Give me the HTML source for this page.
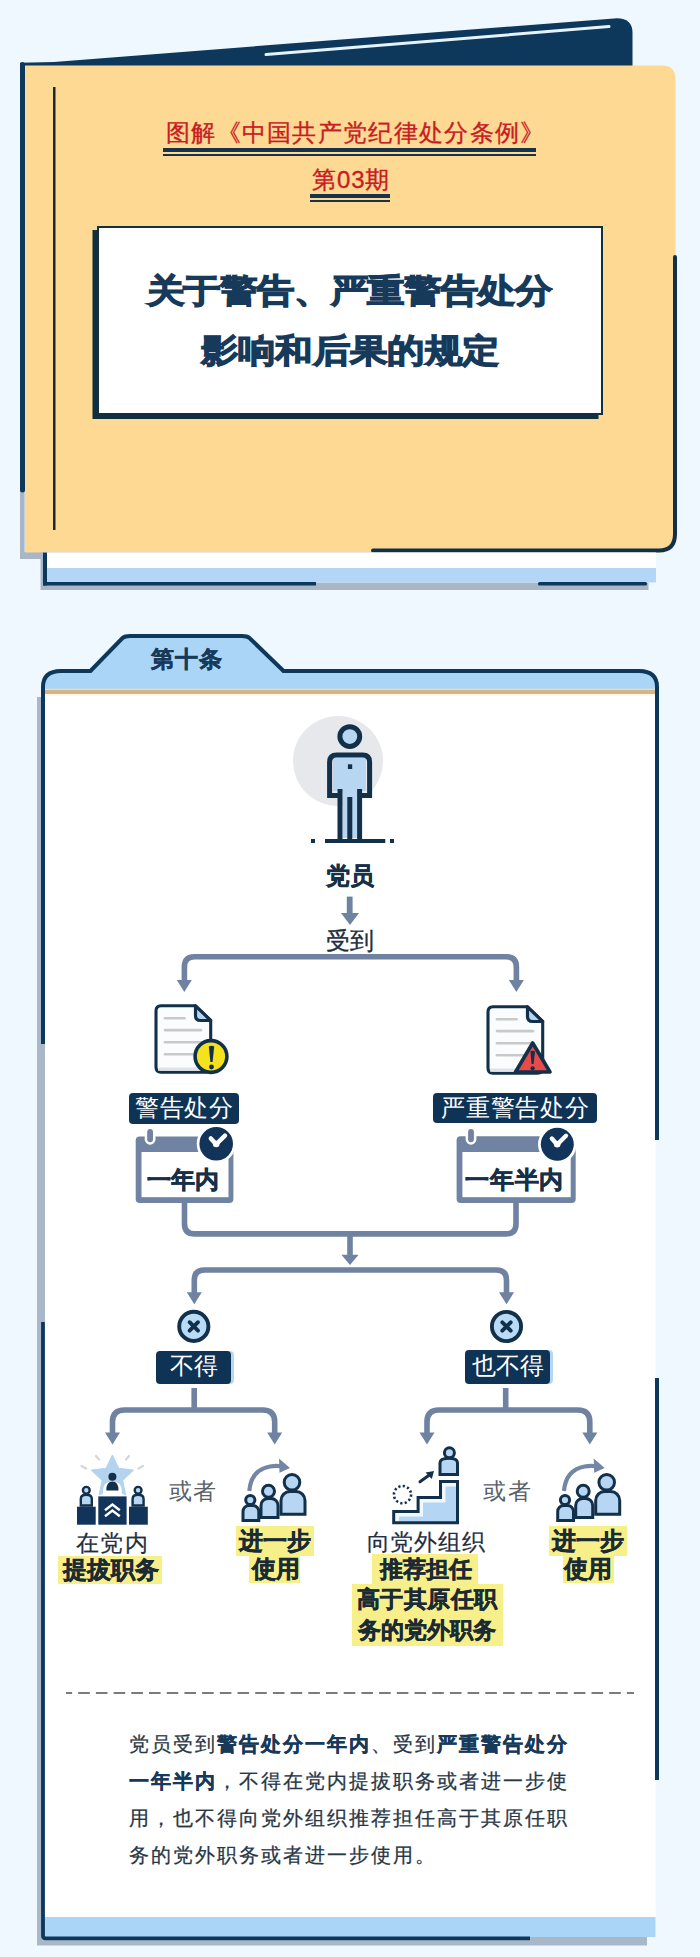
<!DOCTYPE html>
<html><head><meta charset="utf-8">
<style>
*{margin:0;padding:0;box-sizing:border-box}
html,body{width:700px;height:1957px;overflow:hidden;background:#eef8fe}
body{position:relative;font-family:"Liberation Sans",sans-serif;color:#1c2d3d}
.a{position:absolute}
.t{position:absolute;white-space:nowrap;line-height:1}
.lbl{position:absolute;background:#0f3354;color:#fff;border-radius:4px;text-align:center;box-shadow:3px 0 0 #b6d7f3}
.hl{background:#f7ef8a;-webkit-text-stroke:0.5px #1b2b35}
</style></head><body>

<!-- ===== BOOK HEADER ===== -->
<svg class="a" style="left:0;top:0" width="700" height="600" viewBox="0 0 700 600">
  <!-- back cover -->
  <path d="M20 62.8 L54 61.9 L614 18.4 Q632.5 17 632.5 33 L632.5 70 L20 70 Z" fill="#0d385c"/>
  <line x1="266" y1="54.6" x2="609" y2="26.6" stroke="#e6f3fc" stroke-width="3" stroke-linecap="round"/>
  <!-- left strips -->
  <rect x="20" y="480" width="4.6" height="79" fill="#a9b6c7"/>
  <rect x="20" y="62" width="5" height="430.5" rx="2.5" fill="#0d385c"/>
  <rect x="20" y="552" width="24" height="7" fill="#a9b6c7"/>
  <!-- beige page -->
  <path d="M25 65.5 L662 65.5 Q675.5 65.5 675.5 79 L675.5 534 Q675.5 552.5 657 552.5 L25 552.5 Z" fill="#fdd993"/>
  <!-- right + bottom navy border -->
  <path d="M675 257 L675 534 Q675 550.5 659 550.5 L373 550.5" fill="none" stroke="#12304a" stroke-width="4" stroke-linecap="round"/>
  <!-- inner vertical line -->
  <rect x="53" y="87" width="2.5" height="443" fill="#1b2633"/>
  <!-- second layer page -->
  <rect x="40.5" y="552.5" width="608" height="37.5" fill="#a9b6c7"/>
  <rect x="43" y="552.5" width="613" height="30" fill="#ffffff"/>
  <rect x="47" y="568" width="609" height="14.5" fill="#b3d6f6"/>
  <rect x="43" y="552.5" width="4" height="33" fill="#0d385c"/>
  <rect x="43" y="582" width="273" height="3.5" fill="#0d385c"/>
  <rect x="538" y="582" width="109" height="3.5" rx="1.5" fill="#0d385c"/>
</svg>

<div class="t" style="left:166px;top:121px;font-size:24px;letter-spacing:1.3px;color:#c81c24;-webkit-text-stroke:0.35px #c81c24">图解《中国共产党纪律处分条例》</div>
<div class="a" style="left:163px;top:148px;width:373px;height:3.7px;background:#17324a"></div>
<div class="a" style="left:163px;top:153.6px;width:373px;height:2.4px;background:#17324a"></div>
<div class="t" style="left:312px;top:168px;font-size:24px;letter-spacing:0.9px;color:#c81c24;-webkit-text-stroke:0.35px #c81c24">第03期</div>
<div class="a" style="left:310px;top:194.3px;width:80px;height:3.7px;background:#17324a"></div>
<div class="a" style="left:310px;top:199.8px;width:80px;height:2.4px;background:#17324a"></div>

<!-- title box -->
<div class="a" style="left:97px;top:226px;width:506px;height:189px;background:#fff;border:2px solid #10303f;box-shadow:-4.5px 4px 0 #10303f"></div>
<div class="t" style="left:0;width:698px;text-align:center;top:271.5px;font-size:37px;letter-spacing:-0.2px;font-weight:bold;color:#173a5a;-webkit-text-stroke:1.4px #173a5a;transform:scaleY(0.88)">关于警告、严重警告处分</div>
<div class="t" style="left:0;width:700px;text-align:center;top:331.5px;font-size:37px;letter-spacing:0.3px;font-weight:bold;color:#173a5a;-webkit-text-stroke:1.4px #173a5a;transform:scaleY(0.88)">影响和后果的规定</div>

<!-- ===== CARD ===== -->
<svg class="a" style="left:0;top:600px" width="700" height="1357" viewBox="0 600 700 1357">
  <!-- shadow -->
  <rect x="37" y="697" width="8" height="1247" fill="#a9b8c8"/>
  <rect x="37" y="1937" width="610" height="8.5" fill="#a9b8c8"/>
  <!-- card fill -->
  <path d="M43 1937 L43 687 Q43 669 61 669 L90 669 L122 637 Q125 634.5 130 634.5 L242 634.5 Q247 634.5 250 637 L284 669 L639 669 Q657 669 657 687 L657 1140 L655.5 1140 L655.5 1937 Z" fill="#ffffff"/>
  <rect x="41" y="1044" width="4" height="278" fill="#a9b8c8"/>
  <!-- light blue header -->
  <path d="M43 691 L43 687 Q43 669 61 669 L90 669 L122 637 Q125 634.5 130 634.5 L242 634.5 Q247 634.5 250 637 L284 669 L639 669 Q657 669 657 687 L657 691 Z" fill="#abd5f7"/>
  <rect x="45" y="688.7" width="610" height="1.5" fill="#d3e2e8"/>
  <rect x="45" y="690" width="610" height="4.2" fill="#dab47e"/>
  <rect x="45" y="694.2" width="610" height="2" fill="#fffaf0"/>
  <!-- bottom band -->
  <rect x="43" y="1917" width="612.5" height="20" fill="#abd5f7"/>
  <!-- borders -->
  <path d="M43 1044 L43 687 Q43 671 61 671 L90.5 671 L122.5 638 Q125 636 130 636 L242 636 Q247 636 249.5 638 L283.5 671 L639 671 Q657 671 657 687 L657 1140" fill="none" stroke="#0d385c" stroke-width="4"/>
  <path d="M43 1322 L43 1935.5 Q43 1938.3 45.8 1938.3 L530 1938.3" fill="none" stroke="#0d385c" stroke-width="3.8"/>
  <rect x="655" y="1378" width="4" height="402" fill="#0d385c"/>
</svg>
<div class="t" style="left:150.5px;top:647.5px;font-size:23px;letter-spacing:1px;font-weight:bold;color:#173a5a;-webkit-text-stroke:0.4px #173a5a">第十条</div>


<!-- ===== FLOW SHAPES ===== -->
<svg class="a" style="left:0;top:0" width="700" height="1957" viewBox="0 0 700 1957">
  <defs>
    <path id="ah" d="M-7.5 0 L7.5 0 L0 12 Z"/>
  </defs>
  <!-- person -->
  <circle cx="338" cy="761" r="45" fill="#e7e8eb"/>
  <g fill="none" stroke="#13304a" stroke-width="5">
    <path d="M333 758 L366 758 L366 791 L357 791 L357 838 L342.6 838 L342.6 791 L333 791 Z" fill="#b6d6f1" stroke="none"/>
    <circle cx="349.8" cy="736.6" r="9.9" fill="#b6d6f1"/>
    <path d="M340 789 L340 840"/>
    <path d="M359.6 789 L359.6 840"/>
    <path d="M349.8 797 L349.8 840"/>
    <path d="M340 795.5 L329.6 795.5 L329.6 762 Q329.6 755 336.6 755 L362.6 755 Q369.6 755 369.6 762 L369.6 795.5 L359.6 795.5"/>
  </g>
  <rect x="347.9" y="764.3" width="4.3" height="4.7" fill="#13304a"/>
  <rect x="325" y="839" width="60.3" height="4" fill="#13304a"/>
  <rect x="311" y="839" width="4" height="4" fill="#13304a"/>
  <rect x="390" y="839" width="4" height="4" fill="#13304a"/>

  <!-- arrow 党员 -> 受到 -->
  <g fill="#6f82a1">
    <rect x="346.8" y="896.6" width="5.8" height="18"/>
    <path d="M341 913 L359 913 L350 925 Z"/>
  </g>

  <g fill="none" stroke="#6f82a1" stroke-width="5.6">
    <!-- level1 -->
    <path d="M184.4 981 L184.4 967 Q184.4 956.8 194.6 956.8 L506.2 956.8 Q516.4 956.8 516.4 967 L516.4 981"/>
    <!-- merge -->
    <path d="M184.5 1203 L184.5 1223.7 Q184.5 1233.9 194.7 1233.9 L505.8 1233.9 Q516 1233.9 516 1223.7 L516 1203"/>
    <path d="M350 1233.9 L350 1256"/>
    <!-- level2 -->
    <path d="M194.3 1293.5 L194.3 1280.2 Q194.3 1270 204.5 1270 L496.3 1270 Q506.5 1270 506.5 1280.2 L506.5 1293.5"/>
    <!-- level3 left -->
    <path d="M194.2 1388 L194.2 1410"/>
    <path d="M112.5 1433.5 L112.5 1422 Q112.5 1410 124.5 1410 L262.7 1410 Q274.7 1410 274.7 1422 L274.7 1433.5"/>
    <!-- level3 right -->
    <path d="M505.7 1388 L505.7 1410"/>
    <path d="M427 1433.5 L427 1422 Q427 1410 439 1410 L577.8 1410 Q589.8 1410 589.8 1422 L589.8 1433.5"/>
  </g>
  <g fill="#6f82a1">
    <use href="#ah" transform="translate(184.3 980)"/>
    <use href="#ah" transform="translate(516.4 980)"/>
    <path d="M341.4 1254.7 L358.6 1254.7 L350 1265 Z"/>
    <use href="#ah" transform="translate(194.3 1292.3)"/>
    <use href="#ah" transform="translate(506.5 1292.3)"/>
    <use href="#ah" transform="translate(112.5 1432.5)"/>
    <use href="#ah" transform="translate(274.7 1432.5)"/>
    <use href="#ah" transform="translate(427 1432.5)"/>
    <use href="#ah" transform="translate(589.8 1432.5)"/>
  </g>

  <!-- doc icons -->
  <g id="doc">
    <path d="M161 1005.8 L195.5 1005.8 L210.7 1020.5 L210.7 1067 Q210.7 1072.2 205.5 1072.2 L161 1072.2 Q156 1072.2 156 1067 L156 1011 Q156 1005.8 161 1005.8 Z" fill="#fafcfe" stroke="#13304a" stroke-width="3.1" stroke-linejoin="round"/>
    <rect x="158" y="1067.5" width="50" height="3.2" fill="#dfe3e8"/>
    <path d="M195.5 1005.8 L195.5 1015.5 Q195.5 1020.5 200.5 1020.5 L210.7 1020.5 Z" fill="#b5d6f3" stroke="#13304a" stroke-width="3.2" stroke-linejoin="round"/>
    <g stroke="#c8c9cb" stroke-width="2.6" stroke-linecap="round">
      <path d="M165 1018.2 L184.5 1018.2"/>
      <path d="M165 1030.1 L201 1030.1"/>
      <path d="M165 1042.3 L201 1042.3"/>
      <path d="M165 1054.2 L201 1054.2"/>
    </g>
  </g>
  <use href="#doc" transform="translate(332 1)"/>
  <circle cx="211" cy="1056.5" r="15.9" fill="#f3e21d" stroke="#13304a" stroke-width="3.6"/>
  <path d="M208.8 1046.5 Q211.5 1045 214.2 1046.5 L212.6 1062 L210.4 1062 Z" fill="#13304a"/>
  <circle cx="211.5" cy="1067" r="2.4" fill="#13304a"/>
  <path d="M532.7 1043 L550 1072 L515.5 1072 Z" fill="#e84a4a" stroke="#13304a" stroke-width="3.6" stroke-linejoin="round"/>
  <path d="M530.4 1051.5 Q532.7 1050 535 1051.5 L533.6 1064 L531.6 1064 Z" fill="#13304a"/>
  <circle cx="532.6" cy="1068.3" r="2.1" fill="#13304a"/>

  <!-- calendars -->
  <g id="cal">
    <rect x="135.7" y="1136.4" width="97.7" height="66.5" rx="4" fill="#7083a3"/>
    <rect x="141.5" y="1152" width="87" height="45.2" fill="#ffffff"/>
    <rect x="144.7" y="1126.5" width="10.8" height="18.2" rx="5.4" fill="#ffffff"/>
    <rect x="147.2" y="1129" width="5.8" height="13.2" rx="2.9" fill="#7083a3"/>
  </g>
  <circle cx="216.2" cy="1143.8" r="19.5" fill="#ffffff"/>
  <circle cx="216.2" cy="1143.8" r="16.8" fill="#12345a"/>
  <path d="M210.8 1138.4 L216.2 1144.3 L225 1135.6" fill="none" stroke="#ffffff" stroke-width="4.4" stroke-linecap="round" stroke-linejoin="round"/><circle cx="216.2" cy="1144" r="3.3" fill="#fff"/>

  <rect x="456.6" y="1136.3" width="119.1" height="66.6" rx="4" fill="#7083a3"/>
  <rect x="462.4" y="1152" width="108.3" height="45.2" fill="#ffffff"/>
  <rect x="465.6" y="1126.5" width="10.8" height="18.2" rx="5.4" fill="#ffffff"/>
  <rect x="468.1" y="1129" width="5.8" height="13.2" rx="2.9" fill="#7083a3"/>
  <circle cx="557.3" cy="1144.3" r="19.3" fill="#ffffff"/>
  <circle cx="557.3" cy="1144.3" r="16.5" fill="#12345a"/>
  <path d="M551.8 1138.6 L557.2 1144.5 L566 1135.8" fill="none" stroke="#ffffff" stroke-width="4.4" stroke-linecap="round" stroke-linejoin="round"/><circle cx="557.2" cy="1144.2" r="3.3" fill="#fff"/>

  <!-- x circles -->
  <g stroke="#13304a">
    <circle cx="193.8" cy="1326.4" r="14.6" fill="#b8dbf8" stroke-width="3.9"/>
    <path d="M189.6 1322.2 L198 1330.6 M198 1322.2 L189.6 1330.6" stroke-width="3.9" stroke-linecap="round"/>
    <circle cx="506.5" cy="1326.5" r="14.6" fill="#b8dbf8" stroke-width="3.9"/>
    <path d="M502.3 1322.3 L510.7 1330.7 M510.7 1322.3 L502.3 1330.7" stroke-width="3.9" stroke-linecap="round"/>
  </g>

  <!-- dashed line -->
  <path d="M66 1693 L634 1693" stroke="#7b7b7b" stroke-width="2.2" stroke-dasharray="11.6 6.1" stroke-dashoffset="5.5"/>
</svg>



<!-- ===== ICONS ===== -->
<svg class="a" style="left:0;top:0" width="700" height="1957" viewBox="0 0 700 1957">
  <!-- podium -->
  <g>
    <g stroke="#d3d6da" stroke-width="2.2" stroke-linecap="round">
      <path d="M81.5 1466 L86 1468.5"/>
      <path d="M96 1456 L99 1459.5"/>
      <path d="M129 1456 L126 1459.5"/>
      <path d="M143 1466 L138.5 1468.5"/>
    </g>
    <path d="M112.4 1455.5 L118.6 1468.5 L133 1470.2 L122.4 1480.2 L125.3 1494.5 L112.4 1487.3 L99.5 1494.5 L102.4 1480.2 L91.8 1470.2 L106.2 1468.5 Z" fill="#b3d3ef" stroke="#b3d3ef" stroke-width="1.5" stroke-linejoin="round"/>
    <path d="M103 1496 L103 1489.5 Q104 1481.5 112.4 1481.5 Q120.8 1481.5 121.8 1489.5 L121.8 1496 Z" fill="#ffffff"/>
    <circle cx="112.4" cy="1476.7" r="4" fill="#13304a"/>
    <path d="M106.3 1490.5 Q106.3 1481.5 112.4 1481.5 Q118.5 1481.5 118.5 1490.5 Z" fill="#13304a"/>
    <rect x="98.3" y="1496.4" width="28.3" height="28.3" fill="#12345a"/>
    <path d="M105 1510.3 L112.4 1504.5 L119.8 1510.3 M105 1516.3 L112.4 1510.5 L119.8 1516.3" fill="none" stroke="#ffffff" stroke-width="2.4"/>
    <rect x="77" y="1506.7" width="18.7" height="18" fill="#12345a"/>
    <rect x="129" y="1506.7" width="18.8" height="18" fill="#12345a"/>
    <g fill="#b8d7f2" stroke="#13304a" stroke-width="2.4">
      <path d="M80.8 1505.5 L80.8 1499 Q80.8 1494.8 86.3 1494.8 Q91.8 1494.8 91.8 1499 L91.8 1505.5 Z"/>
      <circle cx="86.3" cy="1490.3" r="3.4"/>
      <path d="M132.6 1505.5 L132.6 1499 Q132.6 1494.8 138.1 1494.8 Q143.6 1494.8 143.6 1499 L143.6 1505.5 Z"/>
      <circle cx="138.1" cy="1490.3" r="3.4"/>
    </g>
  </g>

  <!-- group icon -->
  <g id="grp">
    <path d="M249.3 1491 Q251 1470 270 1466.5 Q276 1465.5 281 1466.3" fill="none" stroke="#7486a4" stroke-width="4.2"/>
    <path d="M279 1458.5 L290 1468 L279.5 1472.8 Z" fill="#7486a4"/>
    <g fill="#b6d6f3" stroke="#13304a" stroke-width="3">
      <path d="M281 1514.2 L281 1500.5 A9 9 0 0 1 290 1491.5 L296 1491.5 A9 9 0 0 1 305 1500.5 L305 1514.2 Z"/>
      <circle cx="292" cy="1482.3" r="7.8"/>
      <path d="M261 1517.5 L261 1505.5 A7 7 0 0 1 268 1498.5 L271 1498.5 A7 7 0 0 1 278 1505.5 L278 1517.5 Z"/>
      <circle cx="268.5" cy="1491.2" r="6"/>
      <path d="M243 1520.6 L243 1511.5 A6 6 0 0 1 249 1505.5 L252.8 1505.5 A6 6 0 0 1 258.8 1511.5 L258.8 1520.6 Z"/>
      <circle cx="250.3" cy="1500" r="4.6"/>
    </g>
  </g>
  <use href="#grp" transform="translate(314.7 0)"/>

  <!-- stairs -->
  <g>
    <path d="M393.7 1522.7 L393.7 1511.5 L418.1 1511.5 L418.1 1497.5 L440.5 1497.5 L440.5 1481.5 L457.5 1481.5 L457.5 1522.7 Z" fill="#f2f8fd"/>
    <path d="M399 1522.7 L399 1516.5 L423 1516.5 L423 1502.5 L445.5 1502.5 L445.5 1486.5 L457.5 1486.5 L457.5 1522.7 Z" fill="#b4d5f3"/>
    <path d="M393.7 1522.7 L393.7 1511.5 L418.1 1511.5 L418.1 1497.5 L440.5 1497.5 L440.5 1481.5 L457.5 1481.5 L457.5 1522.7 Z" fill="none" stroke="#13304a" stroke-width="3"/>
    <g fill="#b6d6f3" stroke="#13304a" stroke-width="3">
      <path d="M440 1474.5 L440 1463 Q440 1458.2 449 1458.2 Q457.5 1458.2 457.5 1463 L457.5 1474.5 Z"/>
      <circle cx="449.4" cy="1452.8" r="5"/>
    </g>
    <path d="M420 1481.8 L429 1475.3" stroke="#13304a" stroke-width="3" stroke-linecap="round"/>
    <path d="M425.5 1472.5 L434 1471 L431.8 1479 Z" fill="#13304a"/>
    <circle cx="402.5" cy="1494.6" r="8.6" fill="none" stroke="#13304a" stroke-width="2.6" stroke-dasharray="2.2 2.3"/>
  </g>
</svg>

<!-- ===== FLOW TEXT ===== -->
<div class="t" style="left:326px;top:864px;font-size:24px;font-weight:bold;color:#173047;-webkit-text-stroke:0.5px #173047">党员</div>
<div class="t" style="left:326px;top:929px;font-size:24px;color:#1f2f3f;-webkit-text-stroke:0.35px #1f2f3f">受到</div>

<div class="lbl" style="left:129px;top:1093px;width:110px;height:30.6px;font-size:24px;line-height:30.6px;letter-spacing:0.8px;text-indent:0.8px;box-shadow:none">警告处分</div>
<div class="lbl" style="left:433px;top:1093px;width:164px;height:30.4px;font-size:24px;line-height:30.4px;letter-spacing:0.8px;text-indent:0.8px;box-shadow:none">严重警告处分</div>

<div class="t" style="left:146.5px;top:1167.5px;font-size:24px;letter-spacing:0.4px;font-weight:bold;color:#173047;-webkit-text-stroke:0.6px #173047">一年内</div>
<div class="t" style="left:465px;top:1167.5px;font-size:24px;letter-spacing:0.8px;font-weight:bold;color:#173047;-webkit-text-stroke:0.6px #173047">一年半内</div>

<div class="lbl" style="left:156px;top:1350.5px;width:75px;height:33px;font-size:24px;line-height:30px">不得</div>
<div class="lbl" style="left:465.3px;top:1350.4px;width:85px;height:33.2px;font-size:24px;line-height:31px">也不得</div>

<div class="t" style="left:169px;top:1480px;font-size:23px;letter-spacing:0.8px;color:#5a6068">或者</div>
<div class="t" style="left:483px;top:1480px;font-size:23px;letter-spacing:1.5px;color:#5a6068">或者</div>

<div class="t" style="left:75.5px;top:1532px;font-size:23px;letter-spacing:1.6px;color:#1f2f3f;-webkit-text-stroke:0.2px #1f2f3f">在党内</div>
<div class="t hl" style="left:57.6px;top:1556px;width:104.6px;height:28px;font-size:24px;line-height:28px;font-weight:bold;text-align:center;text-indent:3px;color:#1b2b35">提拔职务</div>

<div class="t hl" style="left:236.4px;top:1525.7px;width:77.2px;height:30.7px;font-size:24px;line-height:30.7px;font-weight:bold;text-align:center;color:#1b2b35">进一步</div>
<div class="t hl" style="left:248.6px;top:1556.4px;width:51.4px;height:26.5px;font-size:24px;line-height:26.5px;font-weight:bold;text-align:center;text-indent:3px;color:#1b2b35">使用</div>

<div class="t" style="left:366.5px;top:1531px;font-size:23px;letter-spacing:0.8px;color:#1f2f3f;-webkit-text-stroke:0.2px #1f2f3f">向党外组织</div>
<div class="t hl" style="left:372.4px;top:1553.6px;width:105.2px;height:30.8px;font-size:23.4px;line-height:30.8px;font-weight:bold;text-align:center;text-indent:3px;color:#1b2b35">推荐担任</div>
<div class="t hl" style="left:351.9px;top:1584.4px;width:150.8px;height:31px;font-size:23.4px;line-height:31px;font-weight:bold;text-align:center;letter-spacing:0.4px;color:#1b2b35">高于其原任职</div>
<div class="t hl" style="left:351.9px;top:1615.4px;width:150.8px;height:30.6px;font-size:23.4px;line-height:30.6px;font-weight:bold;text-align:center;color:#1b2b35">务的党外职务</div>

<div class="t hl" style="left:549.4px;top:1525.7px;width:77.2px;height:30.7px;font-size:24px;line-height:30.7px;font-weight:bold;text-align:center;color:#1b2b35">进一步</div>
<div class="t hl" style="left:562.6px;top:1556.4px;width:51.4px;height:26.5px;font-size:24px;line-height:26.5px;font-weight:bold;text-align:center;color:#1b2b35">使用</div>

<!-- paragraph -->
<div class="a" style="left:128.5px;top:1726px;font-size:20px;line-height:37px;letter-spacing:2px;color:#283645;white-space:nowrap;-webkit-text-stroke:0.25px #283645">党员受到<b style="color:#173a5a;-webkit-text-stroke:0.35px #173a5a">警告处分一年内</b>、受到<b style="color:#173a5a;-webkit-text-stroke:0.35px #173a5a">严重警告处分</b><br><b style="color:#173a5a;-webkit-text-stroke:0.35px #173a5a">一年半内</b>，不得在党内提拔职务或者进一步使<br>用，也不得向党外组织推荐担任高于其原任职<br>务的党外职务或者进一步使用。</div>

</body></html>
